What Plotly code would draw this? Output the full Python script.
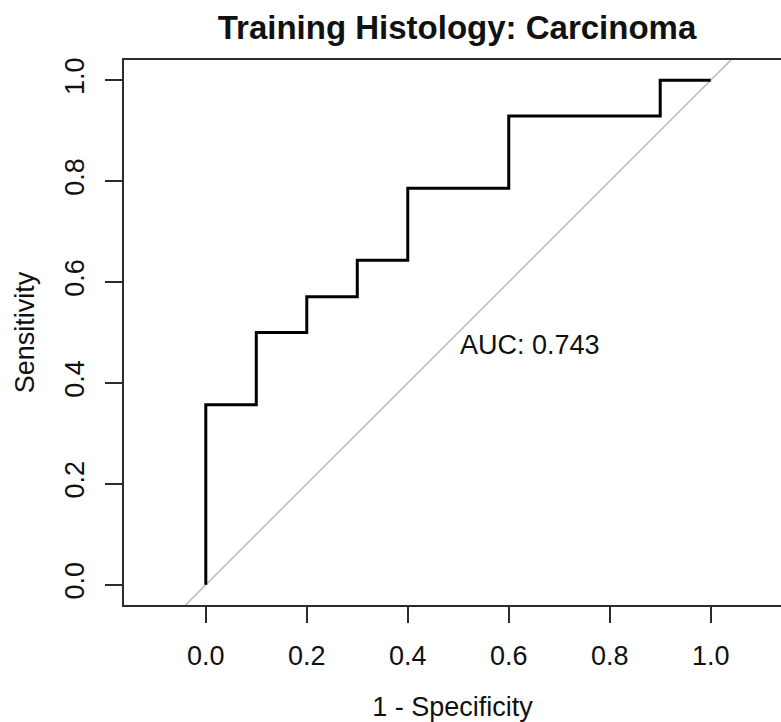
import plotly.graph_objects as go

# ROC curve points (1 - specificity, sensitivity)
fpr = [0.0, 0.0, 0.1, 0.2, 0.3, 0.4, 0.6, 0.9, 1.0]
tpr = [0.0, 0.357, 0.5, 0.571, 0.643, 0.786, 0.929, 1.0, 1.0]
# chance diagonal (y = x), extended past the axes and clipped
diag = [-0.3, 1.3]
auc_text = "AUC: 0.743"
tick_vals = [0.0, 0.2, 0.4, 0.6, 0.8, 1.0]
tick_text = ["0.0", "0.2", "0.4", "0.6", "0.8", "1.0"]

FONT = "Liberation Sans, Arial, Helvetica, sans-serif"
AX = "#2b2b2b"

fig = go.Figure()
fig.add_trace(go.Scatter(x=diag, y=diag, mode="lines",
                         line=dict(color="#bebebe", width=1.6), hoverinfo="skip"))
fig.add_trace(go.Scatter(x=fpr, y=tpr, mode="lines", line_shape="hv",
                         line=dict(color="black", width=3)))

fig.add_annotation(x=0.5, y=0.4755, xref="x", yref="y", text=auc_text,
                   showarrow=False, xanchor="left", yanchor="middle",
                   font=dict(family=FONT, size=27, color="#111"))

fig.update_layout(
    width=781, height=722,
    margin=dict(l=124, r=0, t=60, b=117.4),
    paper_bgcolor="white", plot_bgcolor="white",
    showlegend=False,
    font=dict(family=FONT, size=27, color="#111"),
    title=dict(text="<b>Training Histology: Carcinoma</b>",
               x=457 / 781, xref="container", xanchor="center",
               y=1 - 27 / 722, yref="container", yanchor="middle",
               font=dict(family=FONT, size=33, color="#111")),
    xaxis=dict(range=[-0.162, 1.1392], showgrid=False, zeroline=False,
               showline=True, linecolor=AX, linewidth=1.6, mirror=True,
               ticks="outside", ticklen=16, tickwidth=1.5, tickcolor=AX,
               tickvals=tick_vals, ticktext=tick_text,
               tickfont=dict(size=27), ticklabelstandoff=10,
               title=dict(text="1 - Specificity", standoff=27, font=dict(size=27))),
    yaxis=dict(range=[-0.04, 1.04], showgrid=False, zeroline=False,
               showline=True, linecolor=AX, linewidth=1.6, mirror=False,
               ticks="outside", ticklen=17, tickwidth=1.5, tickcolor=AX,
               tickvals=tick_vals, ticktext=tick_text, tickangle=-90,
               tickfont=dict(size=27), ticklabelstandoff=10,
               title=dict(text="Sensitivity", standoff=18, font=dict(size=27))),
)

fig.write_html("out.html")
